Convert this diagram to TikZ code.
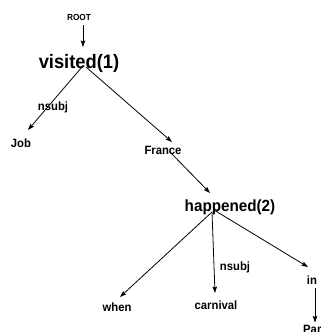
\documentclass[tikz,border=0pt]{standalone}
\usepackage{fontspec}
\setmainfont{Liberation Sans}
\newfontfamily\treefont{Liberation Sans}[FakeStretch=0.94]
\usetikzlibrary{arrows.meta}
\def\wordfont{\treefont\fontsize{12}{13}\selectfont\bfseries}

\begin{document}
\begin{tikzpicture}[x=1pt,y=-1pt,
		word/.style={inner sep=0pt,font=\wordfont},
		head/.style={inner sep=0pt,font=\treefont\fontsize{#1}{#1}\selectfont\bfseries},
		arr/.style={line width=0.8pt,-{Stealth[length=6.5pt,width=4.5pt,inset=1pt]}}]
				%%%%% START %%%%%
				\useasboundingbox (0,0) rectangle (321,332);
				
				\node[head=8.8] (root) at (79,17) {ROOT};
				\node[head=19.5] (visited) at (79,63) {visited(1)};
				\node[word] (job) at (21,143) {Job};
				\node[word] (france) at (163,150) {France};
				\node[head=16.2] (happened) at (230,207) {happened(2)};
				\node[word] (when) at (117,307) {when};
				\node[word] (carnival) at (216,305) {carnival};
				\node[word] (in) at (312,280) {in};
				\node[word] (paris) at (317,329.5) {Paris};
				
				\node[word] (lbone) at (53,107) {nsubj};
				\node[word] (lbtwo) at (235,267) {nsubj};
				
				\draw[arr] ([shift={(4,8)}]root.center) -- ([shift={(4,-16)}]visited.center);
				\draw[arr] ([shift={(3,4)}]visited.center) -- ([shift={(7,-13)}]job.center);
				\draw[arr] ([shift={(7,4)}]visited.center) -- ([shift={(9,-8)}]france.center);
				\draw[arr] ([shift={(7,2)}]france.center) -- ([shift={(-20,-14)}]happened.center);
				
				\draw[arr] ([shift={(-18,5)}]happened.center) -- ([shift={(3,-10)}]when.center);
				\draw[arr] ([shift={(-18,5)}]happened.center) -- ([shift={(-1,-12)}]carnival.center);
				\draw[arr] ([shift={(-16,3)}]happened.center) -- ([shift={(-4,-13)}]in.center);
				\draw[arr] ([shift={(3,8)}]in.center) -- ([shift={(-2,-7)}]paris.center);
				%%%%% END %%%%%
\end{tikzpicture}
\end{document}
